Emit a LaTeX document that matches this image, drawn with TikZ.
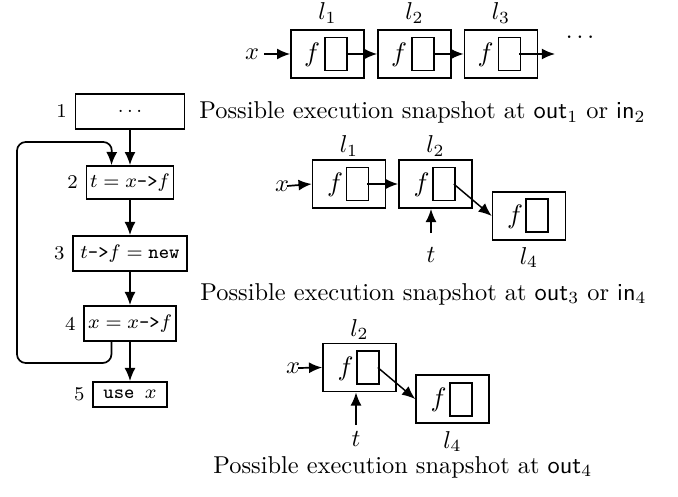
\documentclass[tikz,border=0pt]{standalone}
\usetikzlibrary{arrows.meta}
\begin{document}
\begin{tikzpicture}[x=0.41pt,y=-0.41pt,
  cell/.style={draw, line width=0.7pt, minimum width=29.9pt, minimum height=19.7pt, inner sep=0pt},
  ptr/.style={draw, line width=0.6pt, minimum width=9pt, minimum height=13.5pt, inner sep=0pt},
  fld/.style={inner sep=0pt, font=\fontsize{11}{13}\selectfont},
  fbox/.style={draw, line width=0.7pt, inner sep=0pt, font=\footnotesize},
  num/.style={anchor=east, inner sep=0pt, font=\footnotesize},
  arr/.style={-{Latex[length=5.4pt,width=4.5pt]}, line width=0.7pt},
  darr/.style={-{Latex[length=5.4pt,width=4.5pt]}, line width=0.6pt},
  lab/.style={anchor=base, inner sep=0pt},
  txt/.style={anchor=base west, inner sep=0pt}]
\useasboundingbox (0,0) rectangle (678,496);

% ---------- top row ----------
\node[cell] (a1) at (327.5,54) {};
\node[cell] (a2) at (414.5,54) {};
\node[cell] (a3) at (501,54) {};
\node[ptr] (p1) at (336,54) {};
\node[ptr] (p2) at (423,54) {};
\node[ptr] (p3) at (509.5,54) {};
\node[fld] (f1) at (312,55) {$f$};
\node[fld] (f2) at (399,55) {$f$};
\node[fld] (f3) at (485.5,55) {$f$};
\node[lab] (l1) at (327.5,20) {$l_1$};
\node[lab] (l2) at (414.5,20) {$l_2$};
\node[lab] (l3) at (501,20) {$l_3$};
\node[inner sep=0pt] (x0) at (252,54) {$x$};
\node[lab] (dots) at (580,39) {$\ldots$};
\coordinate (end3) at (555,54);
\draw[arr] ([xshift=2pt]x0.east) -- (a1.west);
\draw[arr] ([xshift=-0.8pt]p1.east) -- (a2.west);
\draw[arr] ([xshift=-0.8pt]p2.east) -- (a3.west);
\draw[arr] ([xshift=-0.8pt]p3.east) -- (end3);

% ---------- flowchart ----------
\node[fbox, minimum width=44.7pt, minimum height=14.35pt] (b1) at (130,111.5) {$\ldots$};
\node[fbox, minimum width=35.7pt, minimum height=13.5pt] (b2) at (130,182.5) {$t = x$\texttt{->}$f$};
\node[fbox, minimum width=46.7pt, minimum height=14.35pt] (b3) at (130,253.5) {$t$\texttt{->}$f = \texttt{new}$};
\node[fbox, minimum width=37.7pt, minimum height=14.35pt] (b4) at (130,323.5) {$x = x$\texttt{->}$f$};
\node[fbox, minimum width=30.3pt, minimum height=10.25pt] (b5) at (130,394.5) {\texttt{use\ }$x$};
\node[num] (n1) at ([xshift=-3pt]b1.west) {1};
\node[num] (n2) at ([xshift=-3pt]b2.west) {2};
\node[num] (n3) at ([xshift=-3pt]b3.west) {3};
\node[num] (n4) at ([xshift=-3pt]b4.west) {4};
\node[num] (n5) at ([xshift=-3pt]b5.west) {5};
\draw[arr] (b1) -- (b2);
\draw[arr] (b2) -- (b3);
\draw[arr] (b3) -- (b4);
\draw[arr] (b4) -- (b5);
\coordinate (lpA) at (17,363);
\coordinate (lpB) at (112,142);
\draw[arr, rounded corners=3.6pt] ([xshift=-7.6pt]b4.south) |- (lpA) |- (lpB) -- ([xshift=-7.6pt]b2.north);

% ---------- captions ----------
\node[txt] (c1) at (199,119) {Possible execution snapshot at \textsf{out}$_1$ or \textsf{in}$_2$};
\node[txt] (c2) at (200,300) {Possible execution snapshot at \textsf{out}$_3$ or \textsf{in}$_4$};
\node[txt] (c3) at (213,473) {Possible execution snapshot at \textsf{out}$_4$};

% ---------- snapshot 1 ----------
\node[cell] (s1a) at (349,184) {};
\node[cell] (s1b) at (435.5,184) {};
\node[cell] (s1c) at (529,216) {};
\node[ptr] (s1pa) at (357.5,184) {};
\node[ptr] (s1pb) at (444,184) {};
\node[ptr] (s1pc) at (537,215.5) {};
\node[fld] (s1fa) at (335,185) {$f$};
\node[fld] (s1fb) at (421.5,185) {$f$};
\node[fld] (s1fc) at (515,217) {$f$};
\node[lab] (s1la) at (349,153) {$l_1$};
\node[lab] (s1lb) at (435.5,153) {$l_2$};
\node[lab] (s1lc) at (529,264) {$l_4$};
\node[inner sep=0pt] (s1x) at (282,186) {$x$};
\node[lab] (s1t) at (431,262) {$t$};
\coordinate (s1tt) at (431,233);
\draw[arr] (s1tt) -- (s1tt |- s1b.south);
\draw[arr] ([xshift=-1pt]s1x.east) -- (s1a.west);
\draw[arr] ([xshift=-0.8pt]s1pa.east) -- (s1b.west);
\draw[darr] ([xshift=-0.8pt]s1pb.east) -- (s1c.west);

% ---------- snapshot 2 ----------
\node[cell] (s2a) at (359.5,367.5) {};
\node[cell] (s2c) at (452.5,399) {};
\node[ptr] (s2pa) at (368,367.5) {};
\node[ptr] (s2pc) at (461,399.5) {};
\node[fld] (s2fa) at (345.5,368.5) {$f$};
\node[fld] (s2fc) at (438.5,400) {$f$};
\node[lab] (s2la) at (359.5,336) {$l_2$};
\node[lab] (s2lc) at (452.5,448) {$l_4$};
\node[inner sep=0pt] (s2x) at (293,368) {$x$};
\node[lab] (s2t) at (356,446) {$t$};
\coordinate (s2tt) at (356,425);
\draw[arr] (s2tt) -- (s2tt |- s2a.south);
\draw[arr] ([xshift=-1pt]s2x.east) -- (s2a.west);
\draw[darr] ([xshift=-0.8pt]s2pa.east) -- (s2c.west);
\end{tikzpicture}
\end{document}
